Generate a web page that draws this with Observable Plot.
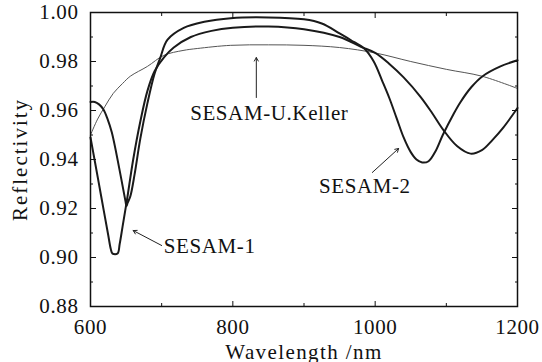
<!DOCTYPE html>
<html><head><meta charset="utf-8">
<script src="https://cdn.jsdelivr.net/npm/d3@7"></script>
<script src="https://cdn.jsdelivr.net/npm/@observablehq/plot@0.6"></script>
<style>
body{margin:0;background:#fff}
#chart svg, #chart svg text { font-family: "Liberation Serif", "Times New Roman", Times, serif !important; }
#chart .ylab text { letter-spacing: 2px; }
#chart .xlab text { letter-spacing: 1.4px; }
</style>
</head><body><div id="chart"></div>
<script>
// Series: SESAM-1
const sesam1Wl = [600, 605, 615, 625, 628.5, 631, 638, 641, 645, 651, 660, 670, 680, 690, 703, 717, 741, 770, 800, 850, 900, 950, 980, 1000, 1020, 1040, 1064, 1080, 1096, 1115, 1134, 1150, 1165, 1180, 1200];
const sesam1R  = [0.949, 0.941, 0.925, 0.909, 0.9035, 0.9016, 0.9016, 0.9055, 0.9125, 0.923, 0.940, 0.9555, 0.968, 0.976, 0.9816, 0.9857, 0.990, 0.9925, 0.9938, 0.9943, 0.9932, 0.990, 0.986, 0.9835, 0.979, 0.9735, 0.9655, 0.959, 0.952, 0.9455, 0.9424, 0.9438, 0.948, 0.953, 0.961];
// Series: SESAM-2
const sesam2Wl = [600, 606, 612, 618, 624, 630, 640, 649, 650.6, 652, 656, 662, 670, 680, 690, 698, 708, 731, 760, 797, 850, 900, 925, 950, 970, 984, 998, 1010, 1020, 1030, 1040, 1050, 1058, 1066, 1075, 1085, 1095, 1110, 1120, 1135, 1151, 1176, 1200];
const sesam2R  = [0.9635, 0.9635, 0.9625, 0.9605, 0.9565, 0.951, 0.937, 0.9232, 0.921, 0.9222, 0.925, 0.934, 0.9485, 0.963, 0.975, 0.9815, 0.9888, 0.9937, 0.9962, 0.9977, 0.998, 0.9972, 0.9955, 0.9915, 0.988, 0.9855, 0.980, 0.972, 0.965, 0.957, 0.949, 0.943, 0.940, 0.9388, 0.9393, 0.9435, 0.950, 0.9585, 0.9635, 0.9695, 0.974, 0.978, 0.9805];
// Series: SESAM-U.Keller
const kellerWl = [600, 610, 620, 632, 645, 656, 680, 703, 730, 750, 797, 850, 900, 950, 1000, 1050, 1100, 1150, 1200];
const kellerR  = [0.950, 0.9565, 0.9615, 0.967, 0.971, 0.974, 0.978, 0.9825, 0.9845, 0.9853, 0.9866, 0.9868, 0.9866, 0.9857, 0.9835, 0.980, 0.9768, 0.974, 0.969];

// Ticks
const xMajor = [600, 800, 1000, 1200];
const xMinor = [700, 900, 1100];
const yMajor = [0.88, 0.90, 0.92, 0.94, 0.96, 0.98, 1.00];
const yMinor = [0.89, 0.91, 0.93, 0.95, 0.97, 0.99];

// Annotations
const labelText = ["SESAM-U.Keller", "SESAM-2", "SESAM-1"];
const labelWl = [740, 921, 703];
const labelR = [0.9588, 0.929, 0.9045];
const arrowFromWl = [833, 996, 700];
const arrowFromR = [0.9653, 0.9347, 0.9049];
const arrowToWl = [833, 1033, 660];
const arrowToR = [0.9816, 0.9445, 0.911];

const toRows = (wl, r) => wl.map((w, i) => ({wl: w, r: r[i]}));
const s1 = toRows(sesam1Wl, sesam1R);
const s2 = toRows(sesam2Wl, sesam2R);
const kel = toRows(kellerWl, kellerR);
const arrows = arrowFromWl.map((d, i) => ({x1: d, y1: arrowFromR[i], x2: arrowToWl[i], y2: arrowToR[i]}));
const labels = labelText.map((t, i) => ({t, x: labelWl[i], y: labelR[i]}));

const FONT = "Liberation Serif, Times New Roman, serif";
const blank = () => "";
const chart = Plot.plot({
  width: 542, height: 362,
  marginLeft: 90, marginRight: 25, marginTop: 12, marginBottom: 56,
  x: {domain: [600, 1200]},
  y: {domain: [0.88, 1.0]},
  style: {fontSize: "21px", background: "white", color: "#111", letterSpacing: "0.6px"},
  marks: [
    Plot.line(kel, {x: "wl", y: "r", stroke: "#555", strokeWidth: 1, curve: "catmull-rom"}),
    Plot.line(s1, {x: "wl", y: "r", stroke: "#1a1a1a", strokeWidth: 2, curve: "catmull-rom"}),
    Plot.line(s2, {x: "wl", y: "r", stroke: "#1a1a1a", strokeWidth: 2, curve: "catmull-rom"}),
    Plot.axisX(xMajor, {anchor: "bottom", tickSize: 0, tickPadding: 13, tickFormat: d => String(d), label: null, fontFamily: FONT}),
    Plot.axisX(xMajor, {anchor: "bottom", tickSize: -5, tickFormat: blank, label: null}),
    Plot.axisX(xMinor, {anchor: "bottom", tickSize: -3, tickFormat: blank, label: null}),
    Plot.axisX(xMajor, {anchor: "top", tickSize: -5, tickFormat: blank, label: null}),
    Plot.axisX(xMinor, {anchor: "top", tickSize: -3, tickFormat: blank, label: null}),
    Plot.axisY(yMajor, {anchor: "left", tickSize: 0, tickPadding: 12, tickFormat: d3.format(".2f"), label: null, fontFamily: FONT}),
    Plot.axisY(yMajor, {anchor: "left", tickSize: -6, tickFormat: blank, label: null}),
    Plot.axisY(yMinor, {anchor: "left", tickSize: -3, tickFormat: blank, label: null}),
    Plot.axisY(yMajor, {anchor: "right", tickSize: -6, tickFormat: blank, label: null}),
    Plot.axisY(yMinor, {anchor: "right", tickSize: -3, tickFormat: blank, label: null}),
    Plot.frame({stroke: "#111", strokeWidth: 1.5}),
    Plot.arrow(arrows, {x1: "x1", y1: "y1", x2: "x2", y2: "y2", stroke: "#222", strokeWidth: 1, headLength: 6}),
    Plot.text(labels, {x: "x", y: "y", text: "t", textAnchor: "start", fill: "#111", fontFamily: FONT}),
    Plot.text(["Wavelength /nm"], {frameAnchor: "bottom", textAnchor: "middle", lineAnchor: "bottom", dy: 52, fill: "#111", fontFamily: FONT, className: "xlab"}),
    Plot.text(["Reflectivity"], {frameAnchor: "left", textAnchor: "middle", lineAnchor: "middle", rotate: -90, dx: -70, fill: "#111", fontFamily: FONT, className: "ylab"})
  ]
});
document.getElementById("chart").appendChild(chart);
</script>
</body></html>
